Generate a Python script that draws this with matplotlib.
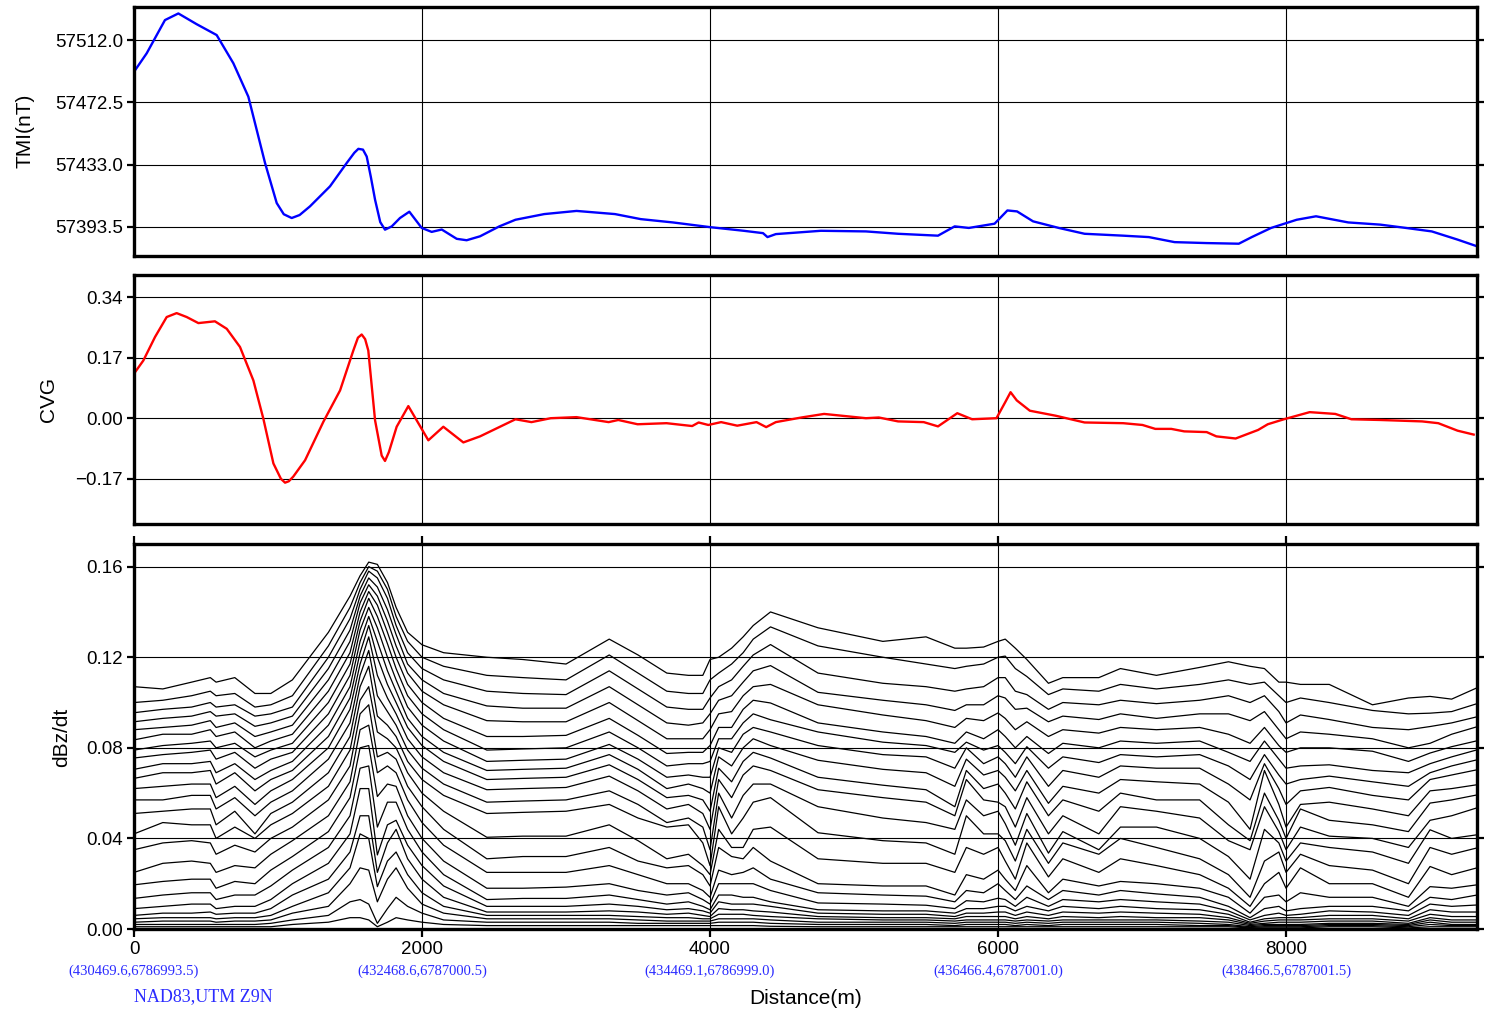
import numpy as np
import matplotlib
matplotlib.use("Agg")
import matplotlib.pyplot as plt

plt.rcParams['font.family'] = ['Liberation Sans', 'DejaVu Sans']

# ---- TMI profile (distance m, nT)
tmi_x = [0, 88, 215, 308, 435, 574, 690, 794, 910, 991, 1040, 1095, 1150, 1222, 1361, 1477,
         1530, 1558, 1590, 1616, 1645, 1674, 1710, 1743, 1790, 1847, 1912, 1998, 2067, 2137, 2241, 2310,
         2403, 2537, 2649, 2849, 3073, 3340, 3519, 3742, 4001, 4234, 4368, 4399,
         4457, 4770, 5083, 5306, 5583, 5699, 5797, 5976, 6065, 6132, 6243, 6422,
         6601, 6869, 7047, 7226, 7449, 7672, 7762, 7896, 8074, 8208, 8432, 8655,
         8833, 9012, 9191, 9325]
tmi_y = [57491.9, 57503.6, 57524.7, 57528.9, 57522.1, 57515.2, 57497.3, 57476.1,
         57434.0, 57408.6, 57401.5, 57399.1, 57401.0, 57406.5, 57419.2, 57434.0, 57440.5, 57443.0,
         57442.5, 57438.1, 57425.0, 57410.7, 57396.5, 57391.7, 57393.8, 57399.1, 57403.1, 57392.8, 57390.3, 57391.8,
         57385.9, 57385.0, 57387.5, 57393.8, 57398.0, 57401.6, 57403.6, 57401.6,
         57398.4, 57396.3, 57393.3, 57391.0, 57389.5, 57387.0, 57388.9, 57391.0,
         57390.6, 57389.1, 57387.9, 57393.8, 57392.8, 57395.5, 57403.9, 57403.3,
         57397.0, 57392.8, 57389.1, 57387.9, 57387.0, 57383.8, 57383.2, 57382.8,
         57387.0, 57392.8, 57398.0, 57400.2, 57396.3, 57394.9, 57392.8, 57390.6,
         57385.4, 57381.2]

# ---- CVG profile
cvg_x = [0, 65, 146, 227, 296, 366, 447, 562, 644, 736, 829, 898, 968, 1020, 1049, 1075, 1106,
         1188, 1315, 1431, 1523, 1555, 1581, 1605, 1627, 1674, 1720, 1743, 1770, 1824, 1905, 1963, 2044,
         2148, 2287, 2403, 2649, 2760, 2894, 3073, 3296, 3363, 3497, 3698, 3876,
         3921, 3988, 4077, 4189, 4323, 4390, 4457, 4635, 4792, 5083, 5172, 5306,
         5484, 5583, 5717, 5820, 5989, 6050, 6087, 6130, 6221, 6400, 6601, 6869, 7003, 7092,
         7203, 7293, 7449, 7516, 7650, 7806, 7873, 7985, 8164, 8342, 8454, 8655,
         8945, 9057, 9191, 9303]
cvg_y = [0.125, 0.162, 0.228, 0.284, 0.295, 0.284, 0.267, 0.272, 0.251, 0.200,
         0.106, -0.001, -0.127, -0.170, -0.181, -0.177, -0.164, -0.118, -0.010, 0.078, 0.190,
         0.226, 0.235, 0.222, 0.190, -0.006, -0.105, -0.120, -0.095, -0.024, 0.034, -0.006, -0.062, -0.024,
         -0.068, -0.051, -0.003, -0.011, 0.000, 0.003, -0.011, -0.005, -0.017,
         -0.014, -0.022, -0.012, -0.019, -0.011, -0.021, -0.011, -0.025, -0.011,
         0.002, 0.012, 0.000, 0.002, -0.009, -0.011, -0.023, 0.014, -0.003, 0.000,
         0.045, 0.073, 0.050, 0.021, 0.007, -0.012, -0.014, -0.019, -0.030, -0.030, -0.037,
         -0.039, -0.051, -0.057, -0.033, -0.017, -0.003, 0.017, 0.012, -0.003,
         -0.005, -0.009, -0.014, -0.035, -0.046]

# ---- dBz/dt channels, one column (ch1..ch24, early -> late) per station, in 1e-3
dbdt_x = [0, 200, 400, 530, 570, 700, 840, 950, 1100, 1350, 1500, 1570, 1630, 1690,
          1760, 1820, 1900, 2000, 2150, 2450, 2700, 3000, 3300, 3500, 3700, 3850,
          3950, 4000, 4060, 4150, 4230, 4300, 4420, 4750, 5200, 5500, 5700, 5780,
          5900, 6000, 6050, 6120, 6200, 6350, 6450, 6700, 6850, 7100, 7400, 7600,
          7750, 7850, 7950, 8000, 8100, 8300, 8600, 8850, 9000, 9150, 9326]
dbdt_cols = [
    [107, 100, 95.5, 91.5, 88, 83.5, 79, 75.5, 70.5, 66.5, 62, 57, 51, 42, 35, 25, 19.5, 13.5, 9, 6, 4.5, 3, 2, 1],
    [106, 101, 97, 93, 89, 86, 81, 77, 73, 69, 63, 57, 52, 47, 38, 29, 21, 15, 10, 7, 5, 3.5, 2, 1],
    [109, 103, 98, 94, 90, 86, 82, 78, 73, 69, 64, 59, 53, 46, 39, 30, 22, 16, 11, 7, 5, 3.5, 2, 1],
    [111, 105, 100, 96, 92, 88, 83, 79, 74, 70, 64, 59, 53, 46, 38, 29, 22, 16, 11, 7.5, 5, 3.5, 2, 1],
    [109, 103, 98, 94, 89, 85, 80, 75, 69, 64, 58, 53, 46, 40, 33, 25, 18, 13, 9, 6.5, 4.5, 3, 2, 1],
    [111, 104, 99, 95, 91, 87, 82, 78, 73, 69, 63, 58, 52, 45, 37, 28, 21, 15, 10, 7, 5, 3.5, 2, 1],
    [104, 98, 94, 89.5, 85, 80, 76, 71, 66, 61, 55, 50, 42, 40, 34, 27, 20, 15, 10, 7, 5, 3.5, 2, 1],
    [104, 99, 95, 91, 87, 83, 79, 75, 70, 66, 61, 56, 51, 46, 40, 33, 26, 19, 13, 9, 6, 4, 2.5, 1],
    [110, 103, 98, 94, 90, 86, 82, 78, 74, 70, 66, 61, 56, 51, 45, 39, 32, 26, 20, 15, 10, 7, 4, 2],
    [131, 125, 120, 115, 110, 105, 100, 95, 90, 85, 80, 75, 69, 63, 57, 50, 43, 36, 29, 22, 16, 10, 6, 3],
    [147, 142, 137, 132, 127, 122, 117, 112, 107, 102, 97, 91, 85, 79, 72, 65, 58, 50, 42, 34, 27, 20, 12, 5],
    [156, 153, 150, 147, 144, 140, 136, 132, 127, 122, 117, 112, 107, 101, 95, 88, 80, 71, 62, 50, 42, 27, 13, 5],
    [162, 160, 158, 155, 152, 149, 146, 142, 138, 134, 129, 123, 116, 107, 99, 90, 81, 72, 62, 50, 40, 26, 11, 4],
    [161, 158, 155, 151, 147, 143, 138, 133, 127, 120, 112, 103, 94, 87, 76, 69, 58.5, 45, 32.7, 25, 18.7, 12, 2.5, 1],
    [153, 150, 146, 141, 136, 131, 126, 120, 114, 108, 102, 96, 90, 84, 78, 72, 64, 56, 46, 38, 30, 22, 9, 3],
    [142, 138, 134, 130, 125, 120, 115, 110, 105, 100, 95, 90, 85, 80, 75, 69, 63, 56, 48, 44, 34, 27, 14, 5],
    [131, 127, 122, 117, 113, 108, 103, 98, 93, 89, 84, 79, 74, 69, 63, 57, 50, 44, 37, 31, 24, 18, 10, 4],
    [125.5, 120, 115, 110, 105, 100, 95, 90, 85, 81, 76, 71, 66, 60, 54, 47, 40, 34, 28, 22, 16, 11, 7, 3],
    [122, 116, 110, 104, 99, 93, 88, 83, 78, 74, 69, 64, 59, 52, 44, 37, 30, 24, 19, 14, 10, 7, 4, 2],
    [120, 112, 105, 98.5, 92, 85, 79, 74, 70, 66, 61.5, 56, 51, 40.5, 31, 25, 18, 13, 10, 7.5, 6, 4.5, 3, 1.5],
    [119, 111, 104, 97.5, 91.5, 85, 79.5, 74.5, 70.5, 66.5, 62, 56.5, 51.5, 41, 32, 25, 18, 13.5, 10, 7.5, 6, 4.5, 3, 1.5],
    [117, 110, 103.5, 97.5, 91.5, 85.5, 80, 75, 71, 67, 62.5, 57, 52, 41, 32, 25, 18.5, 13.5, 10, 7.5, 6, 4.5, 3, 1.5],
    [128, 121, 114, 107, 100, 93, 87, 81.5, 77, 72.5, 67.5, 61, 55, 46, 36, 28, 20, 15, 11, 8, 6, 4.5, 3, 1.5],
    [121, 113, 106, 99, 92, 85.5, 80, 75, 70.5, 66, 61, 55, 49, 39, 30, 24, 17, 13, 10, 7.5, 5.5, 4, 2.5, 1.5],
    [113, 105, 98, 91, 84, 77.5, 72, 67, 62, 58, 53, 47, 45, 31, 27, 20, 15, 11, 8.5, 6.5, 5, 3.5, 2.5, 1.5],
    [112, 104, 97, 90, 84, 78, 73, 68, 64, 59, 55, 49, 46, 33, 28, 20, 16, 12, 9, 7, 5, 3.5, 2.5, 1.5],
    [112, 104, 97, 91, 84, 78, 73, 67, 62, 57, 51, 45, 38, 28, 24, 17, 13, 10, 8, 6, 4.5, 3.5, 2.5, 1.5],
    [119, 110, 102, 95, 88, 81, 74, 67, 60, 52, 44, 35, 28, 24, 19, 14, 11, 8.5, 7, 5.5, 4.5, 3.5, 2.5, 1.5],
    [120, 113, 107, 101, 95, 89, 84, 80, 76, 71, 66, 60, 54, 44, 36, 26, 20, 15, 12, 9, 6.5, 4.5, 3, 1.5],
    [124, 117, 110, 103, 96, 89, 84, 78, 72, 65, 58, 49, 42, 36, 32, 24, 20, 15, 11, 8.5, 6.5, 4.5, 3, 1.5],
    [129, 122, 116, 109, 103, 97, 91, 86, 80, 74, 68, 59, 49, 36, 31, 25, 20, 14, 11, 8.5, 6.5, 4.5, 3, 1.5],
    [134, 128, 121, 114, 107, 101, 95, 89, 84, 78, 72, 64, 56, 44, 36, 27, 20, 14, 11, 8, 6, 4.5, 3, 1.5],
    [140, 133.4, 125.6, 116.3, 108, 99.8, 92.4, 87, 81, 75.5, 70, 64, 58, 45, 30, 22, 17, 12, 10, 7.5, 5.5, 4, 2.5, 1.2],
    [133, 125, 113, 104.5, 99, 91, 87, 81, 74.5, 67, 61.5, 54, 42.5, 31, 20, 16, 11.5, 8.5, 7, 5.5, 4.5, 3, 2, 1],
    [127, 120, 108.5, 101, 94.5, 87, 82.5, 77, 70.5, 63.5, 58, 49, 39, 29, 19, 15, 11, 8, 6.5, 5, 4, 3, 2, 1],
    [129, 117, 107, 99, 92, 85, 81, 76, 69, 61.5, 56, 47, 38, 29, 19, 14.5, 10.5, 8, 6.5, 5, 4, 3, 2, 1],
    [124, 115, 105, 96.5, 89, 82, 78, 71, 63, 54, 50, 44, 33, 25, 15, 12, 9, 7, 5.5, 4.5, 3.5, 2.5, 1.5, 1],
    [124, 116, 106, 99, 93, 87, 82.5, 80, 75, 70, 66, 57, 50, 36, 24, 17, 12.5, 9, 7, 5.5, 4, 3, 2, 1],
    [124.5, 117, 107, 99, 92, 84, 79, 73, 68, 62, 57, 50, 42, 33, 22, 16, 12, 9, 7, 5.5, 4, 3, 2, 1],
    [127, 120, 111, 103, 95.4, 88, 81, 76, 70, 64, 56, 52, 42, 36, 26, 20, 13.6, 10, 7.5, 5.5, 4, 3, 2, 1],
    [128, 120.5, 111, 102, 93, 85, 78, 73, 67, 60, 54, 46.5, 39, 30, 22, 17, 13, 10, 7.5, 5.5, 4, 3, 2, 1],
    [124, 115, 105, 97, 88, 80, 73, 67, 61, 53, 45, 37, 30, 22, 17, 13, 10, 8, 6, 4.5, 3.5, 2.5, 1.5, 1],
    [119, 111.5, 103.5, 97.5, 91.5, 85, 80.5, 76, 70, 65, 58, 51, 44, 38, 28, 19, 14, 10, 7.5, 5.5, 4, 3, 2, 1],
    [108.5, 103.5, 97, 91.5, 85, 77.5, 71, 63, 55.5, 50, 42, 33.5, 29, 23, 16, 13, 10, 8, 6, 4.5, 3.5, 2.5, 1.5, 1],
    [111, 106, 100, 94, 88, 82, 76, 70, 63, 57, 50, 43, 38, 31, 22, 17, 13, 10, 7.5, 5.5, 4, 3, 2, 1],
    [111, 105, 99, 92.5, 86.5, 80, 73.5, 67, 60, 52, 42, 35, 33, 25, 19, 15, 12, 9, 7, 5, 4, 3, 2, 1],
    [115, 108, 101, 95, 89, 83, 77, 72, 66, 60, 54, 45, 40, 31, 21, 17, 13, 10, 7.5, 5.5, 4, 3, 2, 1],
    [112, 106, 99.5, 93, 88, 82, 76, 71, 65, 57, 52, 45, 36, 28, 20, 15.5, 12, 9, 7, 5, 4, 3, 2, 1],
    [115.5, 108, 101, 95, 89, 83, 77, 71, 64, 57, 49, 40, 31, 24, 18, 14, 11, 8.5, 6.5, 5, 3.5, 2.5, 1.5, 1],
    [118, 110, 103, 95, 86, 78, 72, 64, 56, 46, 39, 32, 24, 18, 14, 10, 8, 6.5, 5, 4, 3, 2, 1.5, 1],
    [116, 108, 100, 92, 82, 74, 66, 57, 44, 39, 35, 22, 14, 10, 7, 5, 4, 3, 2.5, 2, 1.5, 1, 0.7, 0.5],
    [115, 109, 103, 96, 89, 83, 77, 73, 70, 60, 54, 44, 30, 20, 14, 9, 6, 4.5, 3.5, 2.5, 2, 1.5, 1, 0.5],
    [109, 103, 96, 88, 81, 75, 68, 62, 55, 48, 43, 38, 34, 25, 15, 10, 7, 5, 4, 3, 2, 1.5, 1, 0.5],
    [109, 100, 91, 84, 78, 71, 64, 55, 45, 40, 35, 30, 25, 18, 12, 8, 6, 5, 4, 3, 2, 1.5, 1, 0.5],
    [108, 102, 94.5, 87, 80, 72, 66, 61, 55, 53, 45, 38, 33, 27, 16, 9, 6.5, 5, 4, 3, 2, 1.5, 1, 0.5],
    [108, 100, 92.5, 86, 80, 72.5, 67.5, 62.5, 56, 48, 41, 36, 28, 20, 14, 10, 8, 6, 4.5, 3.5, 2.5, 2, 1.5, 1],
    [99, 96.5, 89, 84, 78.5, 70, 65, 59, 53, 46, 40, 34, 26, 20, 14, 10, 7.5, 6, 4.5, 3.5, 2.5, 2, 1.5, 1],
    [102, 95, 88, 80, 74, 69, 63, 57, 50, 43, 36, 29, 20, 14, 10, 8, 6, 4.5, 3.5, 2.5, 2, 1.5, 1, 0.5],
    [102.7, 95.3, 89.4, 82, 77.7, 73, 69, 66, 61, 55.6, 48, 43.8, 36, 27.6, 18.7, 14, 11, 8.5, 6.5, 5, 4, 3, 2, 1],
    [101.5, 96, 91, 86, 80.5, 76, 72, 68, 62, 57, 50, 40, 33, 24, 18, 13, 10, 7.5, 5.5, 4, 3, 2, 1.5, 1],
    [106.5, 99.5, 93.7, 89.3, 83.1, 79.1, 74.7, 70.3, 63.7, 59.2, 53.5, 41.6, 35.8, 27, 19.5, 15, 10.6, 7.5, 5.5, 4, 3, 2, 1.5, 1],
]

xticks = [0, 2000, 4000, 6000, 8000]
coord_labels = ['(430469.6,6786993.5)', '(432468.6,6787000.5)', '(434469.1,6786999.0)',
                '(436466.4,6787001.0)', '(438466.5,6787001.5)']
tmi_ticks = [57393.5, 57433.0, 57472.5, 57512.0]
cvg_ticks = [-0.17, 0.0, 0.17, 0.34]
dbdt_ticks = [0.0, 0.04, 0.08, 0.12, 0.16]
xmax = 9326

dbdt = np.array(dbdt_cols).T * 1e-3

W, H = 1490, 1014
fig = plt.figure(figsize=(W / 100, H / 100), dpi=100)

def box(top, bottom):
    return [134 / W, 1 - bottom / H, (1477 - 134) / W, (bottom - top) / H]

ax1 = fig.add_axes(box(7, 256))
ax2 = fig.add_axes(box(275, 524))
ax3 = fig.add_axes(box(544, 929))

for ax in (ax1, ax2, ax3):
    ax.set_xlim(0, xmax)
    ax.set_xticks(xticks)
    for s in ax.spines.values():
        s.set_linewidth(2.4)
    ax.grid(True, color='black', linewidth=0.8)
    ax.set_axisbelow(True)
    ax.tick_params(axis='y', which='both', direction='out', left=True, right=True,
                   labelright=False, length=5, width=1.6, labelsize=13.5, pad=3)

for ax in (ax1, ax2):
    ax.tick_params(axis='x', bottom=False, top=False, labelbottom=False)

ax1.plot(tmi_x, tmi_y, color='#0000ff', linewidth=1.7)
ax1.set_ylim(57375, 57533)
ax1.set_yticks(tmi_ticks)
ax1.set_yticklabels(['%.1f' % t for t in tmi_ticks])

ax2.plot(cvg_x, cvg_y, color='#ff0000', linewidth=1.7)
ax2.set_ylim(-0.297, 0.402)
ax2.set_yticks(cvg_ticks)
ax2.set_yticklabels([('%.2f' % t).replace('-', '\u2212') for t in cvg_ticks])

for ch in dbdt:
    ax3.plot(dbdt_x, ch, color='black', linewidth=0.9)
ax3.set_ylim(0, 0.170)
ax3.set_yticks(dbdt_ticks)
ax3.set_yticklabels(['%.2f' % t for t in dbdt_ticks])
ax3.tick_params(axis='x', direction='out', top=True, bottom=True, length=6,
                width=1.6, labelsize=13.5, pad=3)
ax3.set_xticklabels([str(t) for t in xticks])

for xv, lab in zip(xticks, coord_labels):
    ax3.text(xv, -0.11, lab, transform=ax3.get_xaxis_transform(), ha='center',
             va='center', color='#2b2bff', fontsize=10.5, family='Liberation Serif')
ax3.text(0, -0.175, 'NAD83,UTM Z9N', transform=ax3.transAxes, ha='left', va='center',
         color='#2b2bff', fontsize=13, family='Liberation Serif')
ax3.text(0.5, -0.18, 'Distance(m)', transform=ax3.transAxes, ha='center', va='center',
         fontsize=15)

fig.text(25 / W, 1 - 131 / H, 'TMI(nT)', rotation=90, ha='center', va='center', fontsize=15)
fig.text(48 / W, 1 - 400 / H, 'CVG', rotation=90, ha='center', va='center', fontsize=15)
fig.text(62 / W, 1 - 737 / H, 'dBz/dt', rotation=90, ha='center', va='center', fontsize=15)

fig.savefig('out.png', dpi=100)
